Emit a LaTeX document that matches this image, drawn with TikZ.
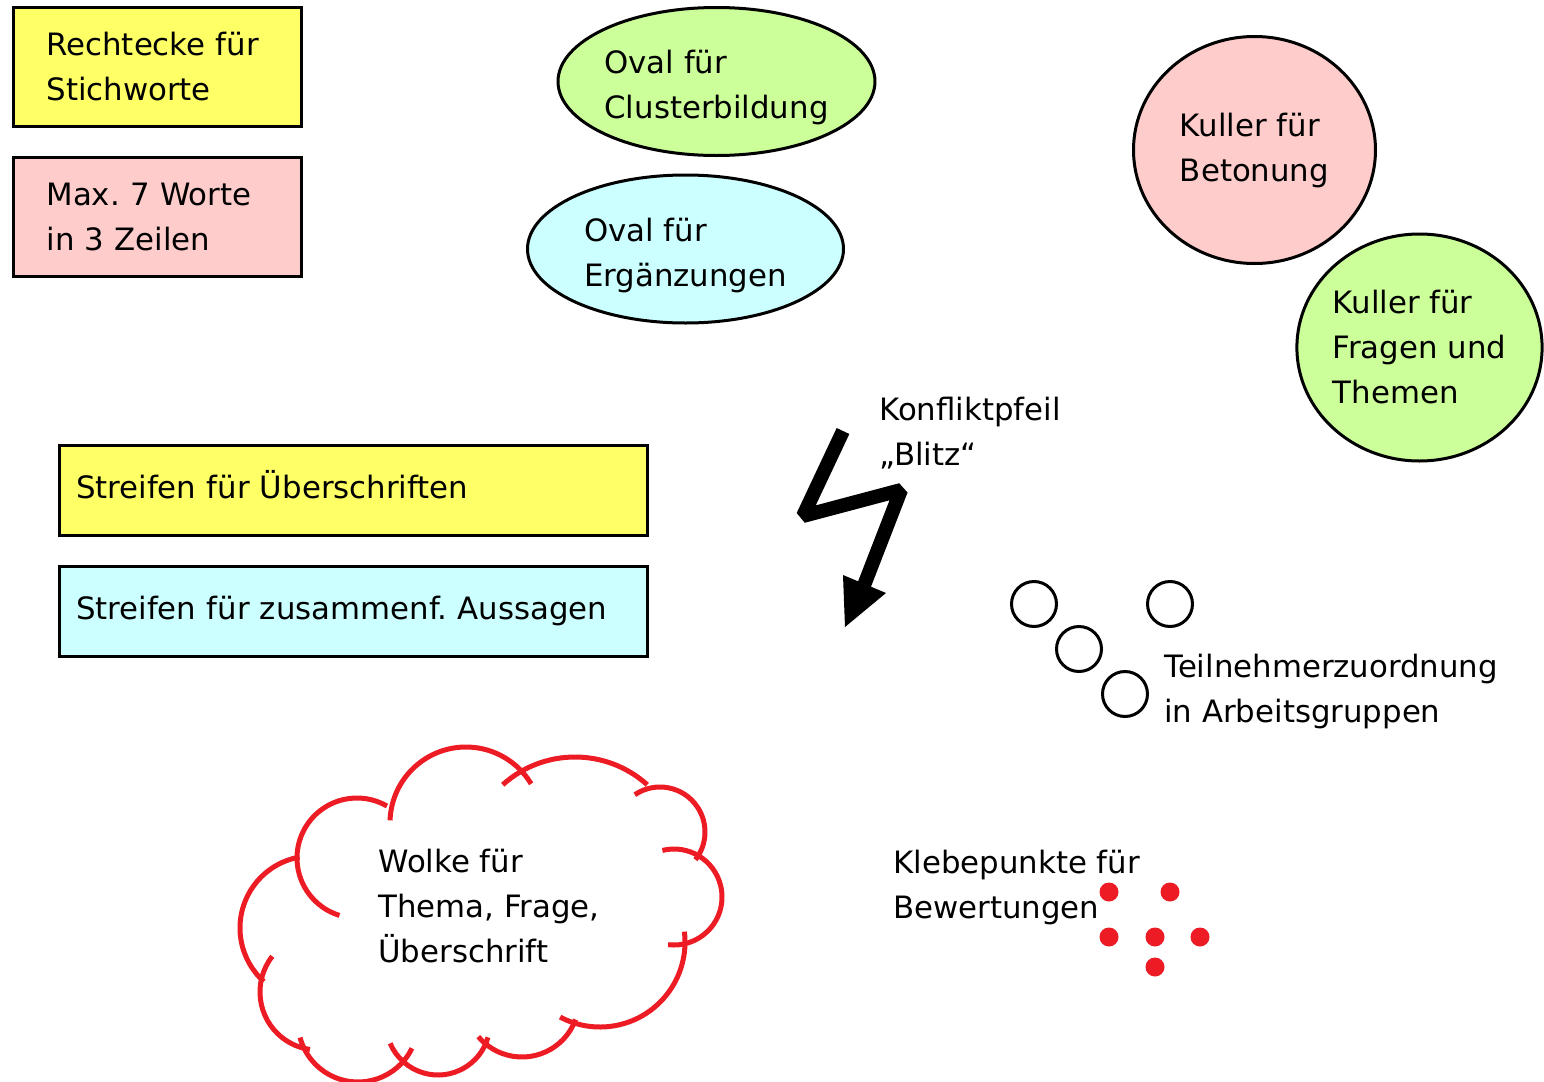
\documentclass[tikz,border=0pt]{standalone}
\usepackage{fontspec}
\setmainfont{DejaVu Sans}
\usetikzlibrary{shapes.geometric,positioning}

\definecolor{zettelgelb}{HTML}{FFFF66}
\definecolor{zettelrosa}{HTML}{FFCCCC}
\definecolor{zettelgruen}{HTML}{CCFF99}
\definecolor{zettelblau}{HTML}{CCFFFF}
\definecolor{klebrot}{HTML}{ED1C24}
\frenchspacing

\begin{document}
\begin{tikzpicture}[x=0.5pt,y=-0.5pt,font=\fontsize{15.4}{22.5}\selectfont,
	karte/.style={draw,line width=1.5pt,align=left,inner ysep=0pt,inner xsep=16.75pt,text width=110.5pt,minimum height=59.5pt},
	streifen/.style={draw,line width=1.5pt,align=left,inner ysep=0pt,inner xsep=8.25pt,text width=277.5pt,minimum height=45pt,text height=11.7pt,text depth=3.6pt},
	oval/.style={draw,ellipse,line width=1.5pt,align=left,inner sep=0pt,minimum width=158pt,minimum height=74pt,text height=40.6pt},
	kuller/.style={draw,ellipse,line width=1.5pt,align=left,inner sep=0pt,minimum width=121pt,minimum height=113.5pt},
	gruppe/.style={draw,circle,line width=1.5pt,inner sep=0pt,minimum size=22.5pt},
	punkt/.style={circle,fill=klebrot,inner sep=0pt,minimum size=9.5pt},
	beschriftung/.style={anchor=north west,align=left,inner sep=0pt},
	wolke/.style={draw=klebrot,line width=2.5pt},
	blitz/.style={line width=7pt,line join=miter,miter limit=2}]
		
		\useasboundingbox (0,0) rectangle (1544,1082);
		
		\node[karte,fill=zettelgelb] (stichwort) at (157,67) {Rechtecke für\\Stichworte};
		\node[karte,fill=zettelrosa,below=14pt of stichwort] (worte) {Max. 7 Worte\\in 3 Zeilen};
		
		\node[oval,fill=zettelgruen] (cluster) at (716.5,81.5) {Oval für\\Clusterbildung};
		\node[oval,fill=zettelblau] (ergaenzung) at (685.5,249) {Oval für\\Ergänzungen};
		
		\node[kuller,fill=zettelrosa] (betonung) at (1254.5,150) {Kuller für\\Betonung};
		\node[kuller,fill=zettelgruen] (fragen) at (1419.5,347.5) {Kuller für\\Fragen und\\Themen};
		
		\node[streifen,fill=zettelgelb] (ueber) at (353.5,490.5) {Streifen für Überschriften};
		\node[streifen,fill=zettelblau,below=14pt of ueber] (aussagen) {Streifen für zusammenf. Aussagen};
		
		\node[beschriftung] (konflikt) at (879,396.6) {Konfliktpfeil\\„Blitz“};
		\coordinate (b0) at (843,431);
		\coordinate (b1) at (803,516);
		\coordinate (b2) at (901,490);
		\coordinate (b3) at (863,588);
		\coordinate (h1) at (843,575);
		\coordinate (h2) at (886,593);
		\coordinate (spitze) at (845,627);
		\draw[blitz] (b0) -- (b1) -- (b2) -- (b3);
		\fill (h1) -- (h2) -- (spitze) -- cycle;
		
		\node[gruppe] (g1) at (1034,604) {};
		\node[gruppe] (g2) at (1079,649) {};
		\node[gruppe] (g3) at (1125,694) {};
		\node[gruppe] (g4) at (1170,604) {};
		\node[beschriftung] (teilnehmer) at (1164,653.6) {Teilnehmerzuordnung\\in Arbeitsgruppen};
		
		\draw[wolke] (466,823) ++(178:38pt) arc[start angle=178,end angle=31,radius=38pt];
		\draw[wolke] (575,865) ++(132:54pt) arc[start angle=132,end angle=48,radius=54pt];
		\draw[wolke] (660,832) ++(124:22.5pt) arc[start angle=124,end angle=-38,radius=22.5pt];
		\draw[wolke] (674,897) ++(104:24pt) arc[start angle=104,end angle=-97,radius=24pt];
		\draw[wolke] (600,942) ++(7:42.5pt) arc[start angle=7,end angle=-118,radius=42.5pt];
		\draw[wolke] (522,1000) ++(-20:28.5pt) arc[start angle=-20,end angle=-140,radius=28.5pt];
		\draw[wolke] (438,1023) ++(-16:26pt) arc[start angle=-16,end angle=-157,radius=26pt];
		\draw[wolke] (358,1022) ++(-26:30pt) arc[start angle=-26,end angle=-165,radius=30pt];
		\draw[wolke] (318,992) ++(142:29pt) arc[start angle=142,end angle=262,radius=29pt];
		\draw[wolke] (312,928) ++(100:36pt) arc[start angle=100,end angle=228,radius=36pt];
		\draw[wolke] (357,858) ++(253:30pt) arc[start angle=253,end angle=60,radius=30pt];
		\node[beschriftung] (thema) at (378,848.6) {Wolke für\\Thema, Frage,\\Überschrift};
		
		\node[beschriftung] (bewertung) at (893,849.6) {Klebepunkte für\\Bewertungen};
		\node[punkt] (p1) at (1109,892) {};
		\node[punkt] (p2) at (1170,892) {};
		\node[punkt] (p3) at (1109,937) {};
		\node[punkt] (p4) at (1155,937) {};
		\node[punkt] (p5) at (1200,937) {};
		\node[punkt] (p6) at (1155,967) {};
		
\end{tikzpicture}
\end{document}
